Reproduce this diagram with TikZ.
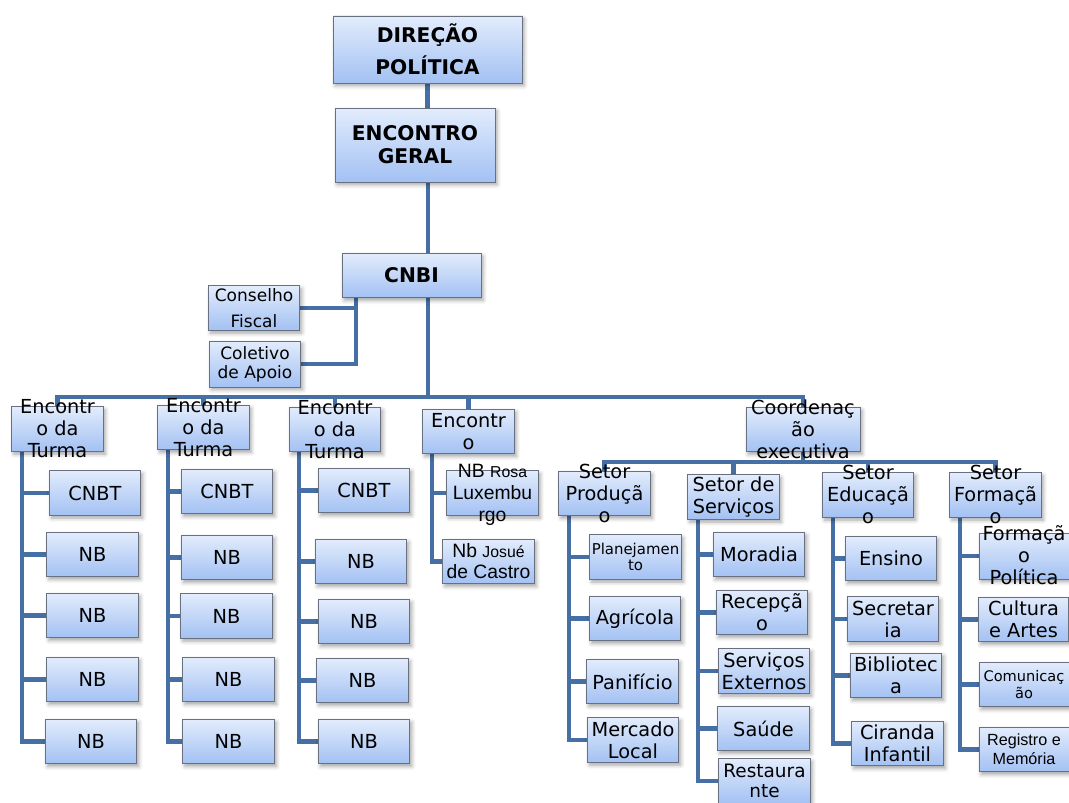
\documentclass[tikz,border=0pt]{standalone}
\usepackage{fontspec}
\setmainfont{DejaVu Sans}
\newfontfamily\narrowfont{Liberation Sans}
\usetikzlibrary{shadows.blur, backgrounds}
\definecolor{linkblue}{RGB}{70,112,165}
\definecolor{boxtop}{RGB}{226,236,252}
\definecolor{boxbot}{RGB}{163,193,243}
\definecolor{boxline}{RGB}{105,112,128}
% text that is taller than its box
\newcommand{\spill}[1]{\smash{\raisebox{-4pt}{\begin{tabular}{@{}c@{}}#1\end{tabular}}}}

\begin{document}
\begin{tikzpicture}[
    x=0.02cm, y=-0.02cm,
    unit/.style={
        draw=boxline,
        top color=boxtop,
        bottom color=boxbot,
        minimum width=1.83cm,
        minimum height=0.89cm,
        inner sep=0pt,
        align=center,
        font=\fontsize{11}{12.5}\selectfont,
        blur shadow={shadow xshift=1.2pt, shadow yshift=-1.6pt, shadow blur steps=4, shadow opacity=35}
    },
    head/.style={
        unit,
        font=\fontsize{11.5}{13}\selectfont\bfseries
    },
    link/.style={
        draw=linkblue,
        line width=2.4pt,
        line cap=rect
    }
]
\useasboundingbox (0,0) rectangle (1069,803);
\clip (0,0) rectangle (1069,803);

% Top
\node[head, minimum width=3.78cm, minimum height=1.34cm] (dir) at (427.5,49.5) {DIREÇÃO\\[5pt]POLÍTICA};
\node[head, minimum width=3.2cm, minimum height=1.48cm] (geral) at (415,145) {ENCONTRO\\GERAL};
\node[head, minimum width=2.78cm] (cnbi) at (411.5,275.5) {CNBI};
\node[unit, font=\fontsize{9.7}{11.5}\selectfont] (fiscal) at (254,308) {Conselho\\[3pt]Fiscal};
\node[unit, minimum height=0.92cm, font=\fontsize{9.7}{11}\selectfont] (apoio) at (255,364) {Coletivo\\de Apoio};

% Turmas
\node[unit] (tur1) at (57.5,429) {\spill{Encontr\\o da\\Turma}};
\node[unit] (c1a) at (95,493) {CNBT};
\node[unit] (c1b) at (92.5,554.5) {NB};
\node[unit] (c1c) at (92.5,615.5) {NB};
\node[unit] (c1d) at (92.5,679.5) {NB};
\node[unit] (c1e) at (91,741.5) {NB};

\node[unit] (tur2) at (203.5,427.5) {\spill{Encontr\\o da\\Turma}};
\node[unit] (c2a) at (227,491.5) {CNBT};
\node[unit] (c2b) at (227,557.5) {NB};
\node[unit] (c2c) at (226.5,616) {NB};
\node[unit] (c2d) at (228.5,679.5) {NB};
\node[unit] (c2e) at (228.5,741.5) {NB};

\node[unit] (tur3) at (335,429.5) {\spill{Encontr\\o da\\Turma}};
\node[unit] (c3a) at (364,490.5) {CNBT};
\node[unit] (c3b) at (361,561.5) {NB};
\node[unit] (c3c) at (364,621.5) {NB};
\node[unit] (c3d) at (362.5,680.5) {NB};
\node[unit] (c3e) at (364,741.5) {NB};

\node[unit] (enc4) at (468.5,431.5) {Encontr\\o};
\node[unit, font=\narrowfont\fontsize{11}{12.5}\selectfont] (rosa) at (492.5,493) {\spill{NB {\fontsize{9}{10}\selectfont Rosa}\\Luxembu\\rgo}};
\node[unit, font=\narrowfont\fontsize{11}{12}\selectfont] (josue) at (488.5,561.5) {Nb {\fontsize{9}{10}\selectfont Josué}\\de Castro};

% Coordenacao
\node[unit, minimum width=2.28cm] (coord) at (803,429.5) {\spill{Coordenaç\\ão\\executiva}};
\node[unit] (prod) at (604.5,493.5) {\spill{Setor\\Produçã\\o}};
\node[unit] (serv) at (733.5,497) {Setor de\\Serviços};
\node[unit] (edu) at (868,495) {\spill{Setor\\Educaçã\\o}};
\node[unit] (form) at (995.5,495) {\spill{Setor\\Formaçã\\o}};

\node[unit, font=\fontsize{8.5}{9.5}\selectfont] (p1) at (635.5,557) {Planejamen\\to};
\node[unit] (p2) at (635,618.5) {Agrícola};
\node[unit] (p3) at (632.5,681.5) {Panifício};
\node[unit] (p4) at (633,740) {Mercado\\Local};

\node[unit] (s1) at (759,554.5) {Moradia};
\node[unit] (s2) at (762,612.5) {Recepçã\\o};
\node[unit] (s3) at (764,671) {Serviços\\Externos};
\node[unit] (s4) at (763.5,728.5) {Saúde};
\node[unit, minimum height=0.9cm, font=\fontsize{10.5}{11.5}\selectfont] (s5) at (764.5,781) {Restaura\\nte};

\node[unit] (e1) at (891,558.5) {Ensino};
\node[unit] (e2) at (893,619) {Secretar\\ia};
\node[unit] (e3) at (896,675.5) {Bibliotec\\a};
\node[unit] (e4) at (897.5,743.5) {Ciranda\\Infantil};

\node[unit, minimum width=1.8cm, minimum height=0.92cm] (f1) at (1024,556) {\spill{Formaçã\\o\\Política}};
\node[unit, minimum width=1.8cm] (f2) at (1023.5,619.5) {Cultura\\e Artes};
\node[unit, minimum width=1.8cm, font=\fontsize{8.3}{9.5}\selectfont] (f3) at (1024,684.5) {Comunicaç\\ão};
\node[unit, minimum width=1.8cm, font=\narrowfont\fontsize{9.2}{10.8}\selectfont] (f4) at (1024,749.5) {Registro e\\Memória};

% Links
\coordinate (hub) at (428,397);
\coordinate (side) at (356,364);
\coordinate (hub2) at (803,462);
\coordinate (sp1) at (22,0);
\coordinate (sp2) at (168,0);
\coordinate (sp3) at (299,0);
\coordinate (sp4) at (432,0);
\coordinate (spp) at (569,0);
\coordinate (sps) at (698,0);
\coordinate (spe) at (833,0);
\coordinate (spf) at (960,0);

\begin{scope}[on background layer]
\draw[link] (dir.south) -- (dir.south |- geral.north);
\draw[link] (geral.south -| hub) -- (cnbi.north -| hub);
\draw[link] (cnbi.south -| hub) -- (hub);
\draw[link] (cnbi.south -| side) -- (side) -- (apoio.east);
\draw[link] (fiscal.east) -- (fiscal.east -| side);

\draw[link] (tur1.north) -- (tur1.north |- hub) -- (coord.north |- hub) -- (coord.north);
\foreach \n in {tur2,tur3,enc4}
    \draw[link] (\n.north) -- (\n.north |- hub);

\draw[link] (coord.south) -- (hub2);
\draw[link] (prod.north) -- (prod.north |- hub2) -- (form.north |- hub2) -- (form.north);
\foreach \n in {serv,edu}
    \draw[link] (\n.north) -- (\n.north |- hub2);

\draw[link] (tur1.south -| sp1) -- (sp1 |- c1e.west);
\foreach \n in {c1a,c1b,c1c,c1d,c1e}
    \draw[link] (sp1 |- \n.west) -- (\n.west);
\draw[link] (tur2.south -| sp2) -- (sp2 |- c2e.west);
\foreach \n in {c2a,c2b,c2c,c2d,c2e}
    \draw[link] (sp2 |- \n.west) -- (\n.west);
\draw[link] (tur3.south -| sp3) -- (sp3 |- c3e.west);
\foreach \n in {c3a,c3b,c3c,c3d,c3e}
    \draw[link] (sp3 |- \n.west) -- (\n.west);
\draw[link] (enc4.south -| sp4) -- (sp4 |- josue.west);
\foreach \n in {rosa,josue}
    \draw[link] (sp4 |- \n.west) -- (\n.west);

\draw[link] (prod.south -| spp) -- (spp |- p4.west);
\foreach \n in {p1,p2,p3,p4}
    \draw[link] (spp |- \n.west) -- (\n.west);
\draw[link] (serv.south -| sps) -- (sps |- s5.west);
\foreach \n in {s1,s2,s3,s4,s5}
    \draw[link] (sps |- \n.west) -- (\n.west);
\draw[link] (edu.south -| spe) -- (spe |- e4.west);
\foreach \n in {e1,e2,e3,e4}
    \draw[link] (spe |- \n.west) -- (\n.west);
\draw[link] (form.south -| spf) -- (spf |- f4.west);
\foreach \n in {f1,f2,f3,f4}
    \draw[link] (spf |- \n.west) -- (\n.west);
\end{scope}

\end{tikzpicture}
\end{document}
